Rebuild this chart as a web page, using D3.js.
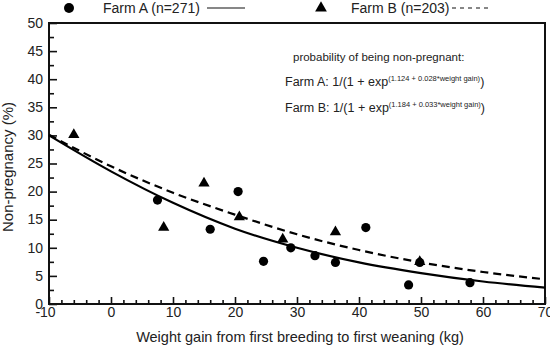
<!DOCTYPE html>
<html>
<head>
<meta charset="utf-8">
<script src="https://cdn.jsdelivr.net/npm/d3@7"></script>
<style>
  body { margin: 0; background: #fff; }
  svg { font-family: "Liberation Sans", Arial, sans-serif; }
</style>
</head>
<body>
<div id="chart"></div>
<script>
// scatter points
const farmAGain = [7.5, 16, 20.5, 24.6, 29, 32.9, 36.2, 41.1, 48, 49.8, 57.9];
const farmARate = [18.5, 13.3, 20, 7.6, 10, 8.6, 7.4, 13.6, 3.4, 7.4, 3.8];
const farmBGain = [-6, 8.5, 15, 20.7, 27.7, 36.2, 49.8];
const farmBRate = [30.1, 13.6, 21.5, 15.5, 11.5, 12.8, 7.5];

// fitted curves, read every 10 kg
const curveGain = [-10, 0, 10, 20, 30, 40, 50, 60, 70];
const solidRate = [30, 23.6, 18, 13.4, 10, 7.4, 5.5, 4, 2.9];
const dashRate = [30.1, 24.5, 19.8, 15.9, 12.4, 9.6, 7.4, 5.7, 4.4];

const xTicks = [-10, 0, 10, 20, 30, 40, 50, 60, 70];
const yTicks = [0, 5, 10, 15, 20, 25, 30, 35, 40, 45, 50];

const W = 550, H = 347;
const margin = { top: 23, right: 5, bottom: 43, left: 49 };

const svg = d3.select("#chart").append("svg")
    .attr("width", W)
    .attr("height", H);

const x = d3.scaleLinear().domain([-10, 70]).range([margin.left, W - margin.right]);
const y = d3.scaleLinear().domain([0, 50]).range([H - margin.bottom, margin.top]);

// inward ticks, major + minor
const xAxis = svg.append("g").attr("transform", `translate(0,${y(0)})`);
xAxis.call(d3.axisBottom(x).tickValues(d3.range(-10, 70.1, 2)).tickSize(-4).tickFormat(""));
xAxis.call(g => g.selectAll(".tick").filter(d => d % 10 === 0).select("line").attr("y2", -7));
xAxis.selectAll(".tick line").attr("stroke", "#111").attr("stroke-width", 1.6);
xAxis.select(".domain").remove();
xAxis.selectAll(".tick").filter(d => xTicks.includes(d)).append("text")
    .attr("y", 13).attr("dx", d => d < 0 ? -4 : 0).attr("fill", "#222")
    .attr("font-size", 14).attr("text-anchor", "middle")
    .text(d => d);

const yAxis = svg.append("g").attr("transform", `translate(${x(-10)},0)`);
yAxis.call(d3.axisLeft(y).tickValues(d3.range(0, 50.1, 2.5)).tickSize(-5).tickFormat(""));
yAxis.call(g => g.selectAll(".tick").filter(d => d % 5 === 0).select("line").attr("x2", 8));
yAxis.selectAll(".tick line").attr("stroke", "#111").attr("stroke-width", 1.6);
yAxis.select(".domain").remove();
yAxis.selectAll(".tick").filter(d => yTicks.includes(d)).append("text")
    .attr("x", -6).attr("dy", "0.3em").attr("fill", "#222")
    .attr("font-size", 14).attr("text-anchor", "end")
    .text(d => d);

// frame
svg.append("rect")
    .attr("x", x(-10)).attr("y", y(50))
    .attr("width", x(70) - x(-10)).attr("height", y(0) - y(50))
    .attr("fill", "none").attr("stroke", "#111").attr("stroke-width", 2);

// axis titles
svg.append("text")
    .attr("x", 300).attr("y", 342)
    .attr("text-anchor", "middle").attr("font-size", 14.5).attr("fill", "#222")
    .text("Weight gain from first breeding to first weaning (kg)");

svg.append("text")
    .attr("transform", "translate(13,167) rotate(-90)")
    .attr("text-anchor", "middle").attr("font-size", 15).attr("fill", "#222")
    .text("Non-pregnancy (%)");

// curves
const line = d3.line()
    .x(d => x(d[0]))
    .y(d => y(d[1]))
    .curve(d3.curveMonotoneX);

svg.append("path")
    .datum(curveGain.map((g, i) => [g, solidRate[i]]))
    .attr("d", line)
    .attr("fill", "none").attr("stroke", "#000").attr("stroke-width", 2.2);

svg.append("path")
    .datum(curveGain.map((g, i) => [g, dashRate[i]]))
    .attr("d", line)
    .attr("fill", "none").attr("stroke", "#000").attr("stroke-width", 2.2)
    .attr("stroke-dasharray", "8,5");

// points
const tri = d3.symbol().type(d3.symbolTriangle).size(55);

svg.append("g").selectAll("path")
    .data(farmBGain.map((g, i) => [g, farmBRate[i]]))
    .join("path")
    .attr("d", tri)
    .attr("transform", d => `translate(${x(d[0])},${y(d[1])})`)
    .attr("fill", "#000");

svg.append("g").selectAll("circle")
    .data(farmAGain.map((g, i) => [g, farmARate[i]]))
    .join("circle")
    .attr("cx", d => x(d[0]))
    .attr("cy", d => y(d[1]))
    .attr("r", 4.6)
    .attr("fill", "#000");

// legend
svg.append("circle").attr("cx", 69).attr("cy", 8).attr("r", 5).attr("fill", "#000");
svg.append("text").attr("x", 103).attr("y", 13).attr("font-size", 14).attr("fill", "#222")
    .text("Farm A (n=271)");
svg.append("line").attr("x1", 207).attr("x2", 245).attr("y1", 8).attr("y2", 8)
    .attr("stroke", "#111").attr("stroke-width", 1.2);

svg.append("path").attr("d", d3.symbol().type(d3.symbolTriangle).size(60))
    .attr("transform", "translate(321,8)").attr("fill", "#000");
svg.append("text").attr("x", 351).attr("y", 13).attr("font-size", 14).attr("fill", "#222")
    .text("Farm B (n=203)");
svg.append("line").attr("x1", 452).attr("x2", 492).attr("y1", 8).attr("y2", 8)
    .attr("stroke", "#111").attr("stroke-width", 1.2).attr("stroke-dasharray", "4,4");

// model annotation
svg.append("text").attr("x", 293).attr("y", 61).attr("font-size", 11.5).attr("fill", "#222")
    .text("probability of being non-pregnant:");

function formula(label, coef, yPos) {
    const t = svg.append("text").attr("x", 285).attr("y", yPos)
        .attr("font-size", 12.5).attr("fill", "#222");
    t.append("tspan").text(label + ": 1/(1 + exp");
    t.append("tspan").attr("font-size", 7.5).attr("dy", -5).text(coef);
    t.append("tspan").attr("dy", 5).text(")");
}
formula("Farm A", "(1.124 + 0.028*weight gain)", 86);
formula("Farm B", "(1.184 + 0.033*weight gain)", 112);
</script>
</body>
</html>
